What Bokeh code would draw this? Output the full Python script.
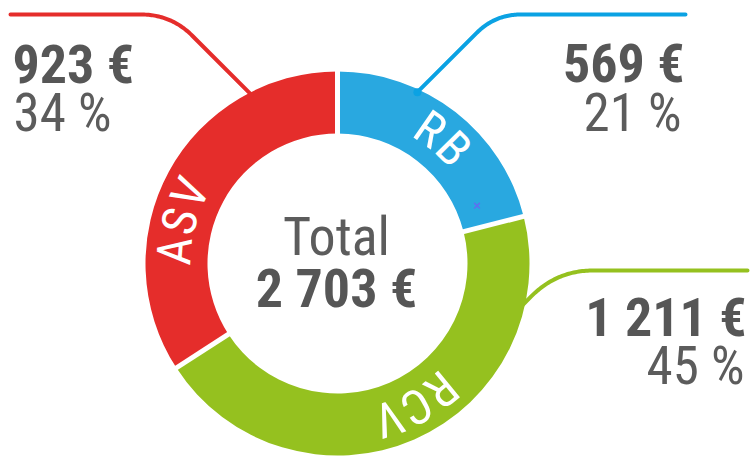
import numpy as np
from bokeh.plotting import figure
from bokeh.models import Range1d, ColumnDataSource
from bokeh.core.properties import value
from bokeh.embed import file_html
from bokeh.resources import INLINE

# ---------------- data ----------------
categories = ["RB", "RCV", "ASV"]
amounts = [569, 1211, 923]
seg_colors = ["#29A8E0", "#95C11F", "#E52D2B"]
lead_colors = ["#0BA2E3", "#95C11F", "#E52D2B"]

total = sum(amounts)


def fmt_eur(v):
    return f"{v:,}".replace(",", " ") + " €"


value_labels = [fmt_eur(v) for v in amounts]
pct_labels = [f"{round(v / total * 100)} %" for v in amounts]
total_label = fmt_eur(total)

# ---------------- style / layout ----------------
FONT = "Roboto Condensed, DejaVu Sans Condensed, Liberation Sans Narrow, Roboto, sans-serif"
GREY = "#565656"
GREY2 = "#5c5c5c"
W, H = 751, 456
CX, CY = 337, -263          # y axis points up: y = -row
R_OUT, R_IN = 192, 130
BSHIFT = 0.36               # empirical baseline correction (em)
RING_FS = 48
R_TXT = 146                 # baseline radius of ring labels
LETTER_STEP = 30            # px along arc between ring-label letters
label_center_deg = [40, 151, 285]
# leader: angle on ring (deg clockwise from top), y row of horizontal, end x, corner arm
leader_phi = [25, 103, 333]
leader_row = [14, 270, 14]
leader_end = [685, 747, 10]
leader_arm = [26, 36, 30]
# text blocks: x anchor, align, value baseline row, pct baseline row
txt_x = [684, 746, 12]
txt_pct_x = [681, 744, 13]
txt_align = ["right", "right", "left"]
val_row = [82, 336, 83]
pct_row = [132, 385, 132]
VAL_FS, PCT_FS, CTR_FS = 54, 53, 54

p = figure(width=W, height=H, output_backend="svg", toolbar_location=None,
           x_range=Range1d(0, W), y_range=Range1d(-H, 0),
           x_axis_type=None, y_axis_type=None, min_border=0)
p.grid.visible = False
p.outline_line_color = None
p.background_fill_color = "white"
p.border_fill_color = "white"

# ---------------- donut ----------------
frac = np.array(amounts, dtype=float) / total
cum = np.concatenate([[0.0], np.cumsum(frac)]) * 2 * np.pi   # clockwise from top
src = ColumnDataSource(dict(
    start=np.pi / 2 - cum[:-1], end=np.pi / 2 - cum[1:], color=seg_colors, cat=categories))
p.annular_wedge(x=CX, y=CY, inner_radius=R_IN, outer_radius=R_OUT,
                start_angle="start", end_angle="end", direction="clock",
                fill_color="color", line_color=None, source=src)

# white separators
b = cum[:-1]
p.segment(x0=CX + (R_IN - 3) * np.sin(b), y0=CY + (R_IN - 3) * np.cos(b),
          x1=CX + (R_OUT + 3) * np.sin(b), y1=CY + (R_OUT + 3) * np.cos(b),
          line_color="white", line_width=5)

# ring labels along the arc (letters placed clockwise, tops outward)
lx, ly, la, lt = [], [], [], []
r_anchor = R_TXT + BSHIFT * RING_FS
for cat, phc in zip(categories, label_center_deg):
    n = len(cat)
    for i, ch in enumerate(cat):
        ph = np.radians(phc) + (i - (n - 1) / 2) * LETTER_STEP / 162.0
        lx.append(CX + r_anchor * np.sin(ph))
        ly.append(CY + r_anchor * np.cos(ph))
        la.append(-ph)
        lt.append(ch)
p.text(x=lx, y=ly, text=lt, angle=la, text_align="center", text_baseline="alphabetic",
       text_font=value(FONT), text_font_size=f"{RING_FS}px", text_color="white")

# ---------------- leader lines ----------------
for i in range(3):
    ph = np.radians(leader_phi[i])
    sx, sy = CX + (R_OUT - 3) * np.sin(ph), CY + (R_OUT - 3) * np.cos(ph)
    yl = -leader_row[i]
    sgn = 1 if leader_end[i] > sx else -1
    dy = yl - sy
    kx, ky = sx + sgn * dy, yl
    arm = min(leader_arm[i], dy * np.sqrt(2))
    d = arm / np.sqrt(2)
    px_, py_ = kx - sgn * d, ky - d
    qx, qy = kx + sgn * arm, ky
    t = np.linspace(0, 1, 40)
    bx = (1 - t) ** 2 * px_ + 2 * (1 - t) * t * kx + t ** 2 * qx
    by = (1 - t) ** 2 * py_ + 2 * (1 - t) * t * ky + t ** 2 * qy
    xs = np.concatenate([[sx], bx, [leader_end[i]]])
    ys = np.concatenate([[sy], by, [yl]])
    p.line(xs, ys, line_color=lead_colors[i], line_width=4, line_cap="round", line_join="round")
    if i == 0:
        p.scatter([sx], [sy], size=8, marker="circle", fill_color=lead_colors[i], line_color=None)

# small stray marker inside the RB segment
mph = np.radians(67.5)
p.scatter([CX + 151 * np.sin(mph)], [CY + 151 * np.cos(mph)], marker="x", size=8,
          line_color="#5E6FF0", line_width=1.5)

# ---------------- text blocks ----------------
for i in range(3):
    p.text(x=[txt_x[i]], y=[-val_row[i] + BSHIFT * VAL_FS], text=[value_labels[i]],
           text_align=txt_align[i], text_baseline="alphabetic", text_font=value(FONT),
           text_font_size=f"{VAL_FS}px", text_font_style="bold", text_color=GREY)
    p.text(x=[txt_pct_x[i]], y=[-pct_row[i] + BSHIFT * PCT_FS], text=[pct_labels[i]],
           text_align=txt_align[i], text_baseline="alphabetic", text_font=value(FONT),
           text_font_size=f"{PCT_FS}px", text_color=GREY2)

p.text(x=[336], y=[-255 + BSHIFT * CTR_FS], text=["Total"], text_align="center",
       text_baseline="alphabetic", text_font=value(FONT), text_font_size=f"{CTR_FS}px",
       text_color=GREY2)
p.text(x=[336], y=[-307 + BSHIFT * CTR_FS], text=[total_label], text_align="center",
       text_baseline="alphabetic", text_font=value(FONT), text_font_size=f"{CTR_FS}px",
       text_font_style="bold", text_color=GREY)

open("out.html", "w").write(file_html(p, INLINE))
